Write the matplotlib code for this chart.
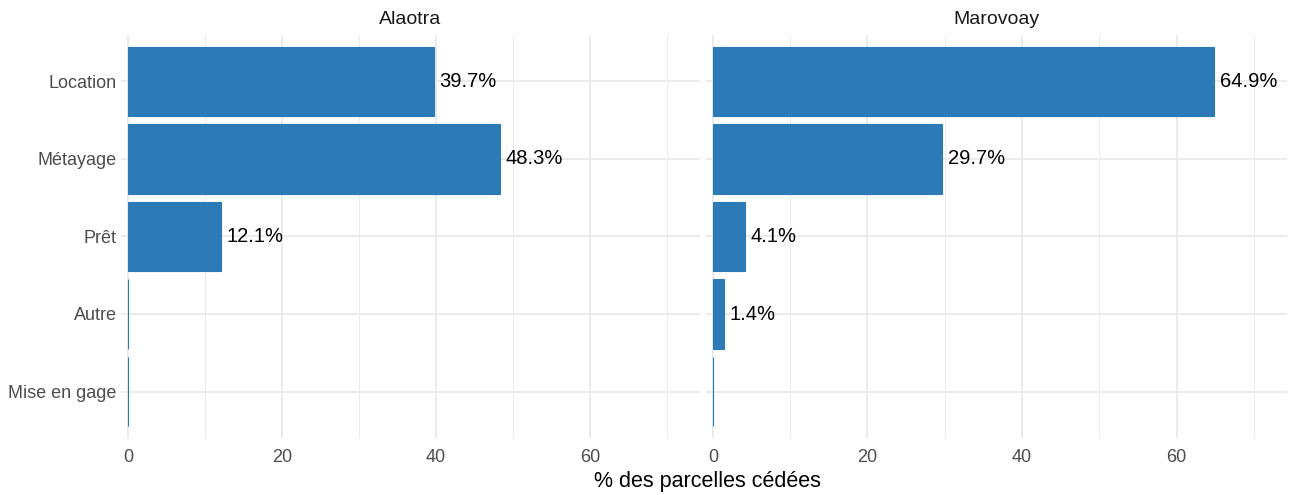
import matplotlib
matplotlib.use("Agg")
import matplotlib.pyplot as plt
from matplotlib.ticker import MultipleLocator

plt.rcParams['font.family'] = ['Liberation Sans', 'DejaVu Sans']

categories = ["Location", "Métayage", "Prêt", "Autre", "Mise en gage"]
regions = ["Alaotra", "Marovoay"]
alaotra = [39.7, 48.3, 12.1, 0.0, 0.0]
marovoay = [64.9, 29.7, 4.1, 1.4, 0.0]
values = [alaotra, marovoay]

bar_color = "#2C7BB6"
grid_color = "#EBEBEB"

W, H = 1289, 495
fig = plt.figure(figsize=(W / 100, H / 100), dpi=100)

panels = [(121, 700), (706, 1287)]
top, bottom = 35, 438
xlim = (-0.9, 74.3)

ypos = list(range(len(categories)))
for k, (x0, x1) in enumerate(panels):
    ax = fig.add_axes([x0 / W, 1 - bottom / H, (x1 - x0) / W, (bottom - top) / H])
    vals = values[k]
    ax.barh(ypos, vals, height=0.9, color=bar_color, edgecolor=bar_color,
            linewidth=0.8, zorder=3)
    for y, v in zip(ypos, vals):
        if v > 0:
            ax.text(v + 0.7, y, f"{v:.1f}%", va="center", ha="left",
                    fontsize=14.5, color="black", zorder=4)
    ax.set_xlim(*xlim)
    ax.set_ylim(len(categories) - 0.4, -0.6)
    ax.xaxis.set_major_locator(MultipleLocator(20))
    ax.xaxis.set_minor_locator(MultipleLocator(10))
    ax.set_yticks(ypos)
    ax.grid(True, which="major", color=grid_color, linewidth=1.4, zorder=0)
    ax.grid(True, which="minor", axis="x", color=grid_color, linewidth=0.7, zorder=0)
    for s in ax.spines.values():
        s.set_visible(False)
    ax.tick_params(which="both", length=0, labelsize=13, labelcolor="#4D4D4D")
    ax.tick_params(axis="y", pad=3)
    ax.tick_params(axis="x", pad=8)
    if k == 0:
        ax.set_yticklabels(categories)
    else:
        ax.set_yticklabels([])
    ax.set_title(regions[k], fontsize=14, color="#1A1A1A", pad=8)

fig.text(707 / W, 1 - 481 / H, "% des parcelles cédées", ha="center", va="center",
         fontsize=15.5, color="black")

fig.savefig("out.png", dpi=100)
